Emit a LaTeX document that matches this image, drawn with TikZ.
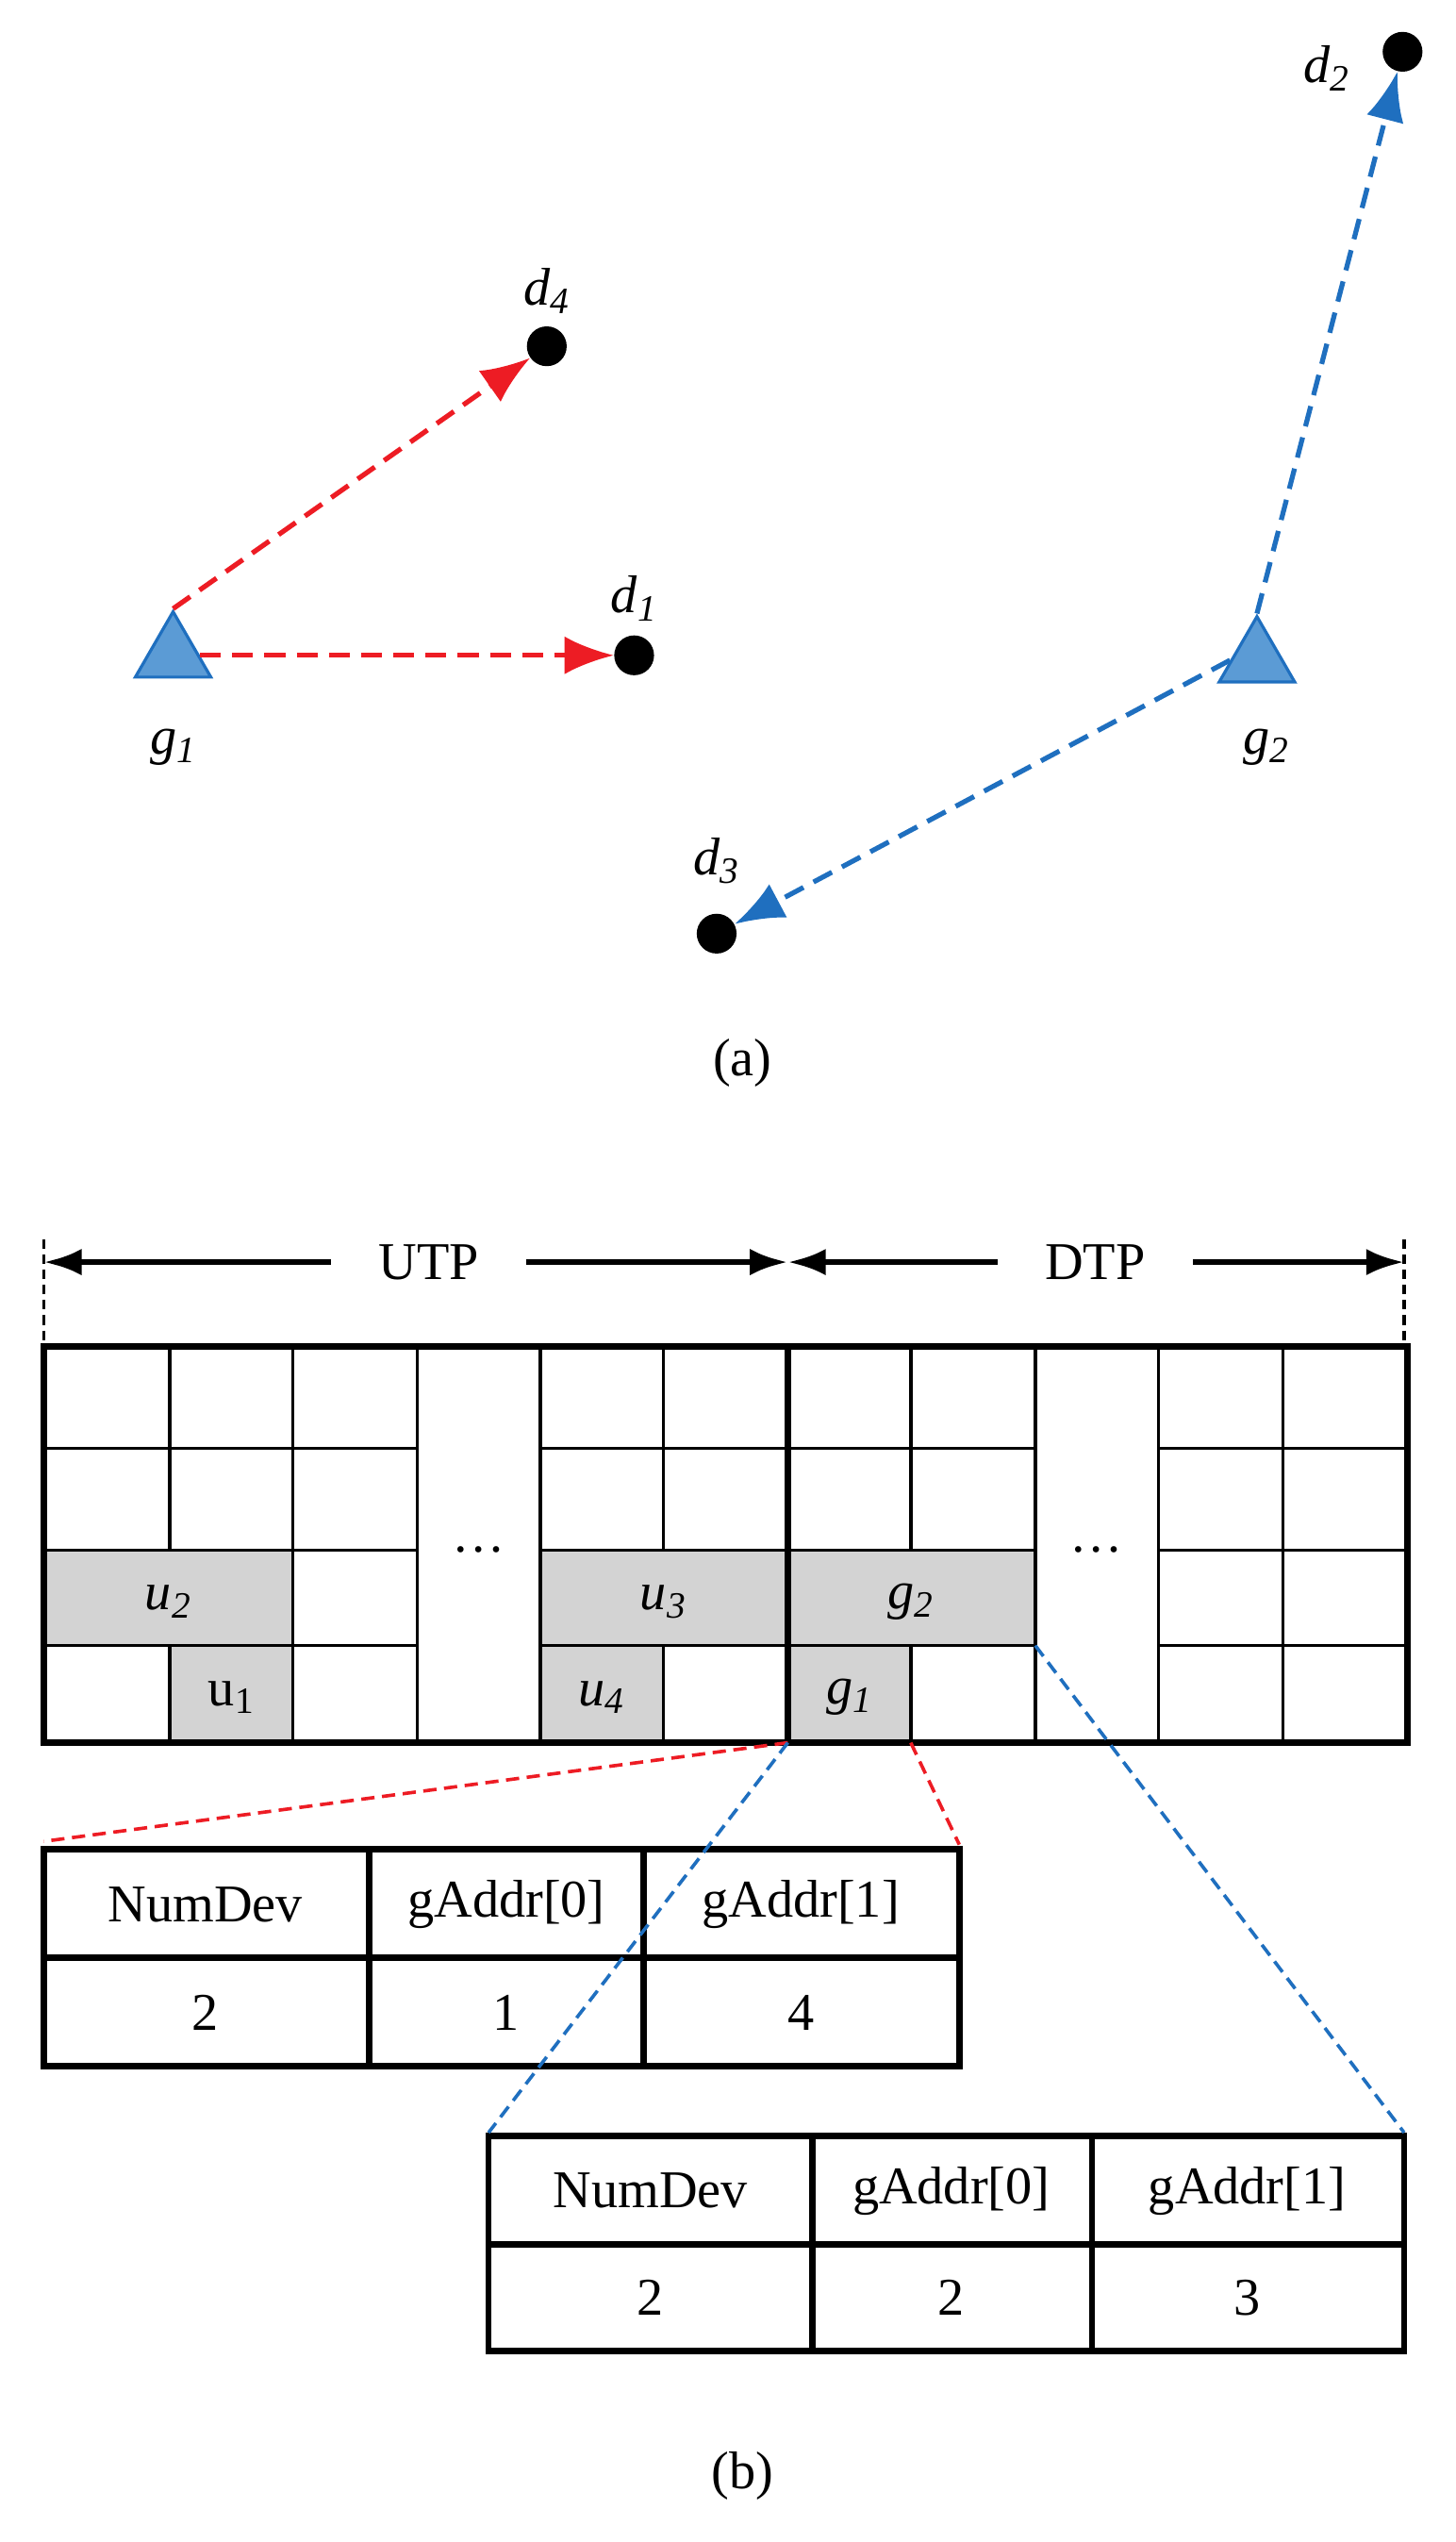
\documentclass[tikz,border=0pt]{standalone}
\usepackage{fontspec}
\setmainfont{Liberation Serif}
\usetikzlibrary{arrows.meta,shapes.geometric}
\definecolor{linkred}{HTML}{ED1C24}
\definecolor{linkblue}{HTML}{1F6FBF}
\definecolor{gwfill}{HTML}{5B9BD5}
\definecolor{slotgray}{HTML}{D3D3D3}
\newcommand{\sym}[2]{\textit{#1}\textsubscript{\textit{#2}}}
\tikzset{
  dev/.style={circle, fill=black, inner sep=0pt, minimum size=21},
  gw/.style={regular polygon, regular polygon sides=3, draw=linkblue, fill=gwfill, line width=1.6pt, inner sep=0pt, minimum size=46},
  lbl/.style={font=\fontsize{28}{32}\selectfont},
  redlink/.style={linkred, line width=2.6pt, dash pattern=on 11pt off 6pt, -{Latex[length=26pt,width=20pt]}},
  bluelink/.style={linkblue, line width=2.6pt, dash pattern=on 11pt off 6pt, -{Latex[length=26pt,width=20pt]}},
  zoomred/.style={linkred, line width=1.8pt, dash pattern=on 7pt off 4pt},
  zoomblue/.style={linkblue, line width=1.8pt, dash pattern=on 7pt off 4pt},
  thin/.style={line width=1.7pt},
  thick/.style={line width=3.4pt},
}
\begin{document}
\begin{tikzpicture}[x=0.03cm,y=-0.03cm]
\useasboundingbox (0,0) rectangle (900,1571);

% ---- (a) topology ----
\node [gw] (g1) at (107,405) {};
\node [gw] (g2) at (777,408) {};
\node [dev] (d1) at (392,405) {};
\node [dev] (d2) at (867,32) {};
\node [dev] (d3) at (443,577) {};
\node [dev] (d4) at (338,214) {};
\node [lbl] (lg1) at (107,462) {\sym{g}{1}};
\node [lbl] (lg2) at (783,462) {\sym{g}{2}};
\node [lbl] (ld1) at (392,370) {\sym{d}{1}};
\node [lbl] (ld2) at (820,42) {\sym{d}{2}};
\node [lbl] (ld3) at (443,532) {\sym{d}{3}};
\node [lbl] (ld4) at (338,180) {\sym{d}{4}};
\draw [redlink] (g1.north) -- (d4);
\draw [redlink] (g1.east) -- (d1);
\draw [bluelink] (g2.north) -- (d2);
\draw [bluelink] (g2.west) -- (d3);
\node [lbl] (capa) at (459,657) {(a)};

% ---- (b) superframe ----
\coordinate (s0) at (27,780);
\coordinate (s1) at (487,780);
\coordinate (s2) at (868,780);
\draw [thin, dash pattern=on 5pt off 3pt] (27,766) -- (27,832) (868,766) -- (868,832);
\draw [thick, {Latex[length=20pt,width=14pt]}-{Latex[length=20pt,width=14pt]}] (s0) -- (s1);
\draw [thick, {Latex[length=20pt,width=14pt]}-{Latex[length=20pt,width=14pt]}] (s1) -- (s2);
\node [lbl, fill=white, inner xsep=25pt] (utp) at (265,780) {UTP};
\node [lbl, fill=white, inner xsep=25pt] (dtp) at (677,780) {DTP};

% gray slots
\foreach \xa/\ya/\xb/\yb in {27/958/181/1017, 105/1017/181/1077, 334/958/487/1017, 334/1017/410/1077, 487/958/640/1017, 487/1017/563/1077}
  \fill [slotgray] (\xa,\ya) rectangle (\xb,\yb);
% grid
\foreach \y in {895,958,1017}
  \draw [thin] (27,\y) -- (258,\y) (334,\y) -- (640,\y) (716,\y) -- (870,\y);
\foreach \x in {105,181,258,334,410,563,640,716,793}
  \draw [thin] (\x,832) -- (\x,1077);
\fill [slotgray] (28,959) rectangle (180,1016);
\fill [slotgray] (335,959) rectangle (486,1016);
\fill [slotgray] (488,959) rectangle (639,1016);
\draw [thin] (27,958) -- (258,958) (334,958) -- (640,958) (27,1017) -- (258,1017) (334,1017) -- (640,1017);
\draw [thick] (27,832) rectangle (870,1077);
\draw [thick] (487,832) -- (487,1077);
\node [lbl] (u2) at (104,990) {\sym{u}{2}};
\node [lbl] (u1) at (143,1049) {u\textsubscript{1}};
\node [lbl] (u3) at (410,990) {\sym{u}{3}};
\node [lbl] (u4) at (372,1049) {\sym{u}{4}};
\node [lbl] (sg2) at (563,990) {\sym{g}{2}};
\node [lbl] (sg1) at (525,1049) {\sym{g}{1}};
\node [lbl] (dots1) at (296,958) {\dots};
\node [lbl] (dots2) at (678,958) {\dots};

% table of g1
\draw [thick] (27,1143) rectangle (593,1277);
\draw [thick] (27,1210) -- (593,1210) (228,1143) -- (228,1277) (398,1143) -- (398,1277);
\node [lbl] (ta1) at (127,1177) {NumDev};
\node [lbl] (ta2) at (313,1177) {gAddr[0]};
\node [lbl] (ta3) at (495,1177) {gAddr[1]};
\node [lbl] (ta4) at (127,1244) {2};
\node [lbl] (ta5) at (313,1244) {1};
\node [lbl] (ta6) at (495,1244) {4};
% table of g2
\draw [thick] (302,1320) rectangle (868,1453);
\draw [thick] (302,1387) -- (868,1387) (502,1320) -- (502,1453) (675,1320) -- (675,1453);
\node [lbl] (tb1) at (402,1354) {NumDev};
\node [lbl] (tb2) at (588,1354) {gAddr[0]};
\node [lbl] (tb3) at (771,1354) {gAddr[1]};
\node [lbl] (tb4) at (402,1420) {2};
\node [lbl] (tb5) at (588,1420) {2};
\node [lbl] (tb6) at (771,1420) {3};

% zoom lines
\draw [zoomred] (487,1077) -- (27,1138);
\draw [zoomred] (563,1077) -- (593,1140);
\draw [zoomblue] (487,1077) -- (302,1318);
\draw [zoomblue] (640,1017) -- (868,1318);
\node [lbl] (capb) at (459,1530) {(b)};
\end{tikzpicture}
\end{document}
